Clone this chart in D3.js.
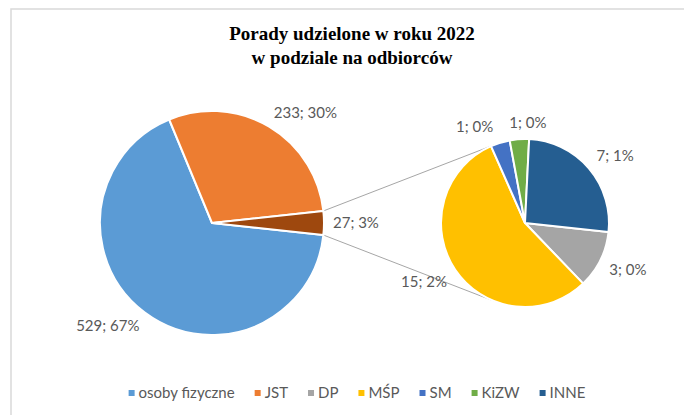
<!DOCTYPE html>
<html>
<head>
<meta charset="utf-8">
<script src="https://cdn.jsdelivr.net/npm/d3@7"></script>
<style>
  body { margin: 0; background: #fff; }
  svg { display: block; }
</style>
</head>
<body>
<div class="chart"></div>
<script>
// data
var categories = ["osoby fizyczne", "JST", "DP", "MŚP", "SM", "KiZW", "INNE"];
var values = [529, 233, 3, 15, 1, 1, 7];
var mainCount = 2; // first two go into the big pie, the rest into the small one
var titleLines = ["Porady udzielone w roku 2022", "w podziale na odbiorców"];

var colorRange = ["#5B9BD5", "#ED7D31", "#A5A5A5", "#FFC000", "#4472C4", "#70AD47", "#255E91"];
var otherColor = "#9E480E";

var width = 684;
var height = 415;
var labelFont = "Lato, 'Open Sans', sans-serif";

var svg = d3.select(".chart").append("svg")
    .attr("width", width)
    .attr("height", height);

// chart frame
svg.append("rect")
    .attr("x", 11).attr("y", 9)
    .attr("width", width + 20).attr("height", height)
    .attr("fill", "none")
    .attr("stroke", "#d9d9d9")
    .attr("stroke-width", 1.5);

var color = d3.scaleOrdinal().domain(categories).range(colorRange);

var total = d3.sum(values);
var pct = d3.format(".0%");

var rows = categories.map(function(c, i) { return {name: c, value: values[i]}; });
var subRows = rows.slice(mainCount);
var otherSum = d3.sum(subRows, function(d) { return d.value; });
var mainRows = rows.slice(0, mainCount).concat([{name: "__other", value: otherSum}]);

// the "other" slice is centered on the right side
var aOther = 2 * Math.PI * otherSum / total;
var start = Math.PI / 2 + aOther / 2;

var pie = d3.pie()
    .sort(null)
    .value(function(d) { return d.value; })
    .startAngle(start)
    .endAngle(start + 2 * Math.PI);

var main = {cx: 212, cy: 223, r: 112};
var sub = {cx: 525, cy: 223, r: 84};

var mainArcs = pie(mainRows);
var subArcs = pie(subRows);

// connector lines from the edges of the "other" slice to tangents of the small pie
var otherArc = mainArcs[mainArcs.length - 1];
function polar(c, r, a) {
    return [c.cx + r * Math.sin(a), c.cy - r * Math.cos(a)];
}
function tangent(p, c, up) {
    var dx = p[0] - c.cx, dy = p[1] - c.cy;
    var d = Math.sqrt(dx * dx + dy * dy);
    var base = Math.atan2(dy, dx);
    var alpha = Math.acos(c.r / d);
    var t = up ? base + alpha : base - alpha;
    return [c.cx + c.r * Math.cos(t), c.cy + c.r * Math.sin(t)];
}
var pTop = polar(main, main.r, otherArc.startAngle);
var pBot = polar(main, main.r, otherArc.endAngle);
var lines = [[pTop, tangent(pTop, sub, true)], [pBot, tangent(pBot, sub, false)]];

svg.selectAll("line.connector")
    .data(lines)
    .enter().append("line")
    .attr("class", "connector")
    .attr("x1", function(d) { return d[0][0]; })
    .attr("y1", function(d) { return d[0][1]; })
    .attr("x2", function(d) { return d[1][0]; })
    .attr("y2", function(d) { return d[1][1]; })
    .attr("stroke", "#a6a6a6")
    .attr("stroke-width", 1);

function drawPie(c, arcs) {
    var arc = d3.arc().innerRadius(0).outerRadius(c.r);
    svg.append("g")
        .attr("transform", "translate(" + c.cx + "," + c.cy + ")")
        .selectAll("path")
        .data(arcs)
        .enter().append("path")
        .attr("d", arc)
        .attr("fill", function(d) { return d.data.name === "__other" ? otherColor : color(d.data.name); })
        .attr("stroke", "#fff")
        .attr("stroke-width", 2)
        .attr("stroke-linejoin", "round");
}
drawPie(main, mainArcs);
drawPie(sub, subArcs);

// data labels, outside end
var labelG = svg.append("g")
    .attr("font-family", labelFont)
    .attr("font-size", 15)
    .attr("fill", "#595959");

var labels = [];
function addLabels(c, arcs, pad) {
    arcs.forEach(function(a) {
        var mid = (a.startAngle + a.endAngle) / 2;
        var anchor = polar(c, c.r + pad, mid);
        var t = labelG.append("text")
            .attr("text-anchor", "middle")
            .attr("dy", "0.35em")
            .text(a.data.value + "; " + pct(a.data.value / total));
        var w = t.node().getComputedTextLength();
        var h = 12;
        var sx = Math.max(-1, Math.min(1, Math.sin(mid) * 2));
        var sy = Math.max(-1, Math.min(1, -Math.cos(mid) * 2));
        labels.push({node: t, x: anchor[0] + sx * w / 2, y: anchor[1] + sy * h / 2, w: w, h: h});
    });
}
addLabels(main, mainArcs, 9);
addLabels(sub, subArcs, 10);

// push apart labels that overlap
var gap = 16;
for (var it = 0; it < 20; it++) {
    for (var i = 0; i < labels.length; i++) {
        for (var j = i + 1; j < labels.length; j++) {
            var a = labels[i], b = labels[j];
            var need = (a.w + b.w) / 2 + gap;
            var dx = b.x - a.x;
            if (Math.abs(a.y - b.y) < (a.h + b.h) / 2 && Math.abs(dx) < need) {
                var shift = (need - Math.abs(dx)) / 2;
                var s = dx >= 0 ? 1 : -1;
                a.x -= s * shift;
                b.x += s * shift;
            }
        }
    }
}
labels.forEach(function(l) {
    l.node.attr("x", l.x).attr("y", l.y);
});

// title
svg.append("g")
    .attr("font-family", "'Liberation Serif', 'Times New Roman', serif")
    .attr("font-weight", "bold")
    .attr("font-size", 19)
    .attr("fill", "#000")
    .selectAll("text")
    .data(titleLines)
    .enter().append("text")
    .attr("x", 352)
    .attr("y", function(d, i) { return 33 + i * 24; })
    .attr("dy", "0.35em")
    .attr("text-anchor", "middle")
    .text(function(d) { return d; });

// legend
var legend = svg.append("g")
    .attr("font-family", labelFont)
    .attr("font-size", 15)
    .attr("fill", "#595959");

var items = legend.selectAll("g")
    .data(categories)
    .enter().append("g");

items.append("rect")
    .attr("width", 6).attr("height", 6)
    .attr("y", -3)
    .attr("fill", function(d) { return color(d); });

items.append("text")
    .attr("x", 10)
    .attr("dy", "0.35em")
    .text(function(d) { return d; });

var xpos = 0;
items.each(function() {
    var g = d3.select(this);
    var w = g.select("text").node().getComputedTextLength() + 10;
    g.attr("transform", "translate(" + xpos + ",0)");
    xpos += w + 20;
});
var legendWidth = xpos - 20;
legend.attr("transform", "translate(" + (357 - legendWidth / 2) + ",393)");
</script>
</body>
</html>
